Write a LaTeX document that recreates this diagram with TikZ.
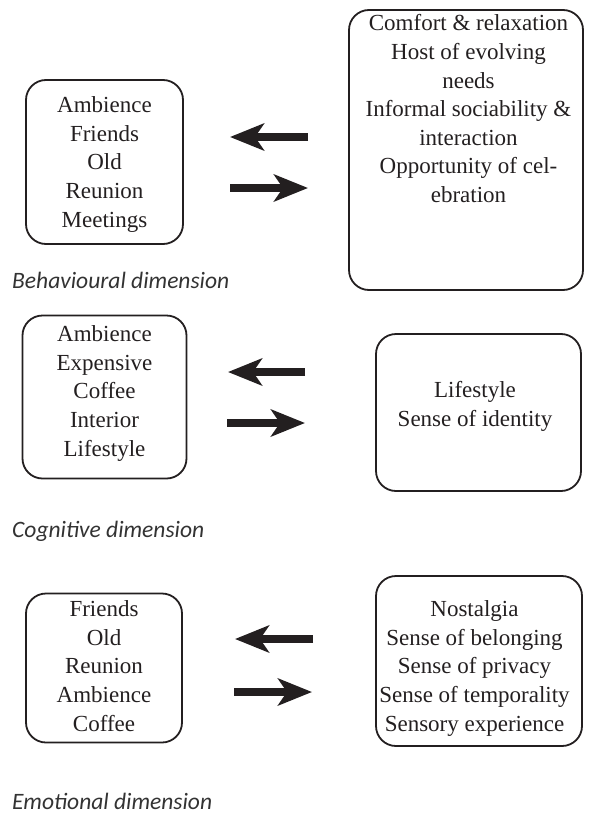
\documentclass[tikz,border=0pt]{standalone}
\usepackage{fontspec}
\setmainfont{Liberation Serif}
\newfontfamily\labelfont{Carlito}
\usetikzlibrary{arrows.meta}
\definecolor{ink}{HTML}{231F20}
\definecolor{labelgray}{HTML}{333333}
\tikzset{
  boxshape/.style={draw=ink, line width=1.8pt, rounded corners=20pt, inner sep=0pt},
  boxtext/.style={anchor=north, inner sep=0pt, align=center, text=ink,
    font=\fontsize{23}{28.6}\selectfont},
  dimlabel/.style={anchor=base west, inner sep=0pt, text=labelgray,
    font=\labelfont\itshape\fontsize{23.5}{26}\selectfont},
  bigarrow/.style={draw=ink, line width=8pt,
    -{Stealth[length=34pt,width=27pt,inset=9pt]}}
}
\begin{document}
\begin{tikzpicture}[x=1pt,y=-1pt]
\useasboundingbox (0,0) rectangle (594,816);

% Row 1
\node[boxshape, minimum width=157pt, minimum height=164pt] (b1l) at (104.5,162) {};
\node[boxshape, minimum width=234pt, minimum height=280pt] (b1r) at (466,150) {};
\node[boxtext] (t1l) at (104.5,96.5) {Ambience\\Friends\\Old\\Reunion\\Meetings};
\node[boxtext] (t1r) at (468.5,14.5) {Comfort \& relaxation\\Host of evolving\\needs\\Informal sociability \&\\interaction\\Opportunity of cel-\\ebration};
\coordinate (a1s) at (308,137); \coordinate (a1e) at (230,137);
\coordinate (a2s) at (230,188); \coordinate (a2e) at (308,188);
\draw[bigarrow] (a1s) -- (a1e);
\draw[bigarrow] (a2s) -- (a2e);
\node[dimlabel] (d1) at (12,288) {Behavioural dimension};

% Row 2
\node[boxshape, minimum width=164pt, minimum height=163pt] (b2l) at (104.5,397) {};
\node[boxshape, minimum width=205pt, minimum height=157pt] (b2r) at (478.5,412.5) {};
\node[boxtext] (t2l) at (104.5,325.5) {Ambience\\Expensive\\Coffee\\Interior\\Lifestyle};
\node[boxtext] (t2r) at (475,381.5) {Lifestyle\\Sense of identity};
\coordinate (a3s) at (305,372); \coordinate (a3e) at (228,372);
\coordinate (a4s) at (227,423); \coordinate (a4e) at (305,423);
\draw[bigarrow] (a3s) -- (a3e);
\draw[bigarrow] (a4s) -- (a4e);
\node[dimlabel] (d2) at (12,537) {Cognitive dimension};

% Row 3
\node[boxshape, minimum width=156pt, minimum height=149pt] (b3l) at (104,668) {};
\node[boxshape, minimum width=206pt, minimum height=170pt] (b3r) at (479,661) {};
\node[boxtext] (t3l) at (104,600.5) {Friends\\Old\\Reunion\\Ambience\\Coffee};
\node[boxtext] (t3r) at (474.5,600.5) {Nostalgia\\Sense of belonging\\Sense of privacy\\Sense of temporality\\Sensory experience};
\coordinate (a5s) at (313,639); \coordinate (a5e) at (235,639);
\coordinate (a6s) at (234,692); \coordinate (a6e) at (312,692);
\draw[bigarrow] (a5s) -- (a5e);
\draw[bigarrow] (a6s) -- (a6e);
\node[dimlabel] (d3) at (12,809) {Emotional dimension};
\end{tikzpicture}
\end{document}
